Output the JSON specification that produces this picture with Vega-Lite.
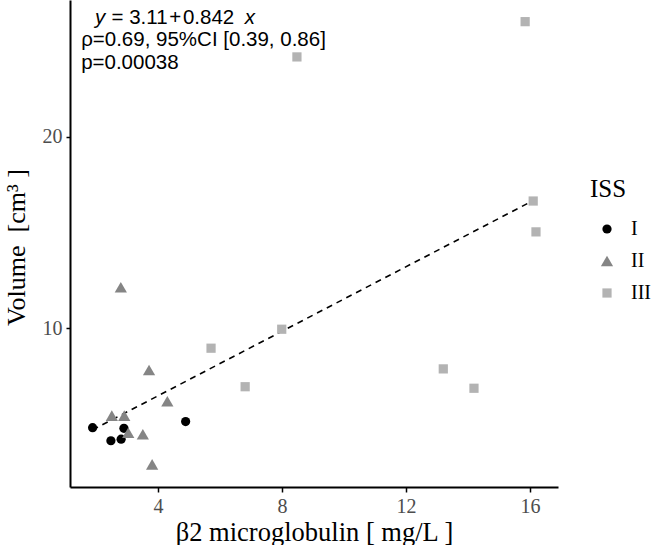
{
  "$schema": "https://vega.github.io/schema/vega-lite/v6.json",
  "autosize": "none",
  "width": 488,
  "height": 487,
  "padding": {"left": 70, "top": 0, "right": 107, "bottom": 58},
  "background": "white",
  "config": {
    "view": {"stroke": null},
    "axis": {
      "grid": false,
      "domainColor": "black",
      "domainWidth": 2,
      "tickColor": "black",
      "tickWidth": 1.5,
      "tickSize": 5,
      "labelFont": "Liberation Serif",
      "labelFontSize": 20,
      "labelColor": "#4d4d4d",
      "titleFont": "Liberation Serif",
      "titleFontSize": 26,
      "titleFontWeight": "normal",
      "titleColor": "black"
    },
    "legend": {
      "titleFont": "Liberation Serif",
      "titleFontSize": 25,
      "titleFontWeight": "normal",
      "titleColor": "black",
      "labelFont": "Liberation Serif",
      "labelFontSize": 20,
      "labelColor": "black"
    }
  },
  "datasets": {
    "patients": [
      {"b2m": 1.89, "volume": 4.81, "ISS": "I"},
      {"b2m": 2.90, "volume": 4.78, "ISS": "I"},
      {"b2m": 2.48, "volume": 4.13, "ISS": "I"},
      {"b2m": 2.81, "volume": 4.21, "ISS": "I"},
      {"b2m": 4.89, "volume": 5.13, "ISS": "I"},
      {"b2m": 2.51, "volume": 5.44, "ISS": "II"},
      {"b2m": 2.91, "volume": 5.44, "ISS": "II"},
      {"b2m": 4.30, "volume": 6.19, "ISS": "II"},
      {"b2m": 3.04, "volume": 4.55, "ISS": "II"},
      {"b2m": 3.51, "volume": 4.47, "ISS": "II"},
      {"b2m": 3.81, "volume": 2.90, "ISS": "II"},
      {"b2m": 2.80, "volume": 12.14, "ISS": "II"},
      {"b2m": 3.71, "volume": 7.82, "ISS": "II"},
      {"b2m": 15.84, "volume": 26.00, "ISS": "III"},
      {"b2m": 8.48, "volume": 24.16, "ISS": "III"},
      {"b2m": 16.10, "volume": 16.64, "ISS": "III"},
      {"b2m": 16.19, "volume": 15.03, "ISS": "III"},
      {"b2m": 5.71, "volume": 8.96, "ISS": "III"},
      {"b2m": 7.99, "volume": 9.95, "ISS": "III"},
      {"b2m": 6.81, "volume": 6.95, "ISS": "III"},
      {"b2m": 13.20, "volume": 7.88, "ISS": "III"},
      {"b2m": 14.19, "volume": 6.87, "ISS": "III"}
    ],
    "fit": [
      {"b2m": 1.89, "volume": 4.70},
      {"b2m": 16.19, "volume": 16.74}
    ],
    "notes": [
      {"b2m": 1.97, "volume": 26.17, "text": "y", "italic": true},
      {"b2m": 2.50, "volume": 26.17, "text": "= 3.11\u200a+\u200a0.842", "italic": false},
      {"b2m": 6.80, "volume": 26.17, "text": "x", "italic": true},
      {"b2m": 1.52, "volume": 25.02, "text": "\u03c1=0.69, 95%CI [0.39, 0.86]", "italic": false},
      {"b2m": 1.52, "volume": 23.84, "text": "p=0.00038", "italic": false}
    ]
  },
  "encoding": {
    "x": {
      "field": "b2m",
      "type": "quantitative",
      "scale": {"domain": [1.161, 16.9], "nice": false, "zero": false},
      "axis": {
        "title": "\u03b22 microglobulin [ mg/L ]",
        "values": [4, 8, 12, 16],
        "labelPadding": 4,
        "titleX": 244,
        "titleY": 53,
        "titleAlign": "center",
        "titleBaseline": "alphabetic",
        "titleFontSize": 26.5
      }
    },
    "y": {
      "field": "volume",
      "type": "quantitative",
      "scale": {"domain": [1.717, 27.13], "nice": false, "zero": false},
      "axis": {
        "title": "Volume\u00a0\u00a0[cm\u00b3\u00a0]",
        "values": [10, 20],
        "tickSize": 4,
        "labelPadding": 4,
        "titleX": -46,
        "titleY": 247,
        "titleAngle": -90,
        "titleAlign": "center",
        "titleBaseline": "alphabetic"
      }
    }
  },
  "layer": [
    {
      "data": {"name": "fit"},
      "mark": {"type": "line", "color": "black", "strokeWidth": 1.6, "strokeDash": [6, 5]},
      "encoding": {}
    },
    {
      "data": {"name": "patients"},
      "mark": {"type": "point", "filled": true, "opacity": 1},
      "encoding": {
        "color": {
          "field": "ISS",
          "type": "nominal",
          "scale": {"domain": ["I", "II", "III"], "range": ["#000000", "#858585", "#b3b3b3"]},
          "legend": {
            "title": "ISS",
            "orient": "none",
            "legendX": 520,
            "legendY": 177,
            "padding": 0,
            "titlePadding": 17,
            "symbolOffset": 7,
            "labelOffset": 14,
            "rowPadding": 12
          }
        },
        "shape": {
          "field": "ISS",
          "type": "nominal",
          "scale": {"domain": ["I", "II", "III"], "range": ["circle", "triangle-up", "square"]}
        },
        "size": {
          "field": "ISS",
          "type": "nominal",
          "scale": {"type": "ordinal", "domain": ["I", "II", "III"], "range": [85, 150, 85]}
        }
      }
    },
    {
      "data": {"name": "notes"},
      "transform": [{"filter": "datum.italic"}],
      "mark": {"type": "text", "align": "left", "baseline": "middle", "font": "Liberation Sans", "fontSize": 20.5, "fontStyle": "italic", "color": "black"},
      "encoding": {"text": {"field": "text"}}
    },
    {
      "data": {"name": "notes"},
      "transform": [{"filter": "!datum.italic"}],
      "mark": {"type": "text", "align": "left", "baseline": "middle", "font": "Liberation Sans", "fontSize": 20.5, "color": "black"},
      "encoding": {"text": {"field": "text"}}
    }
  ]
}
